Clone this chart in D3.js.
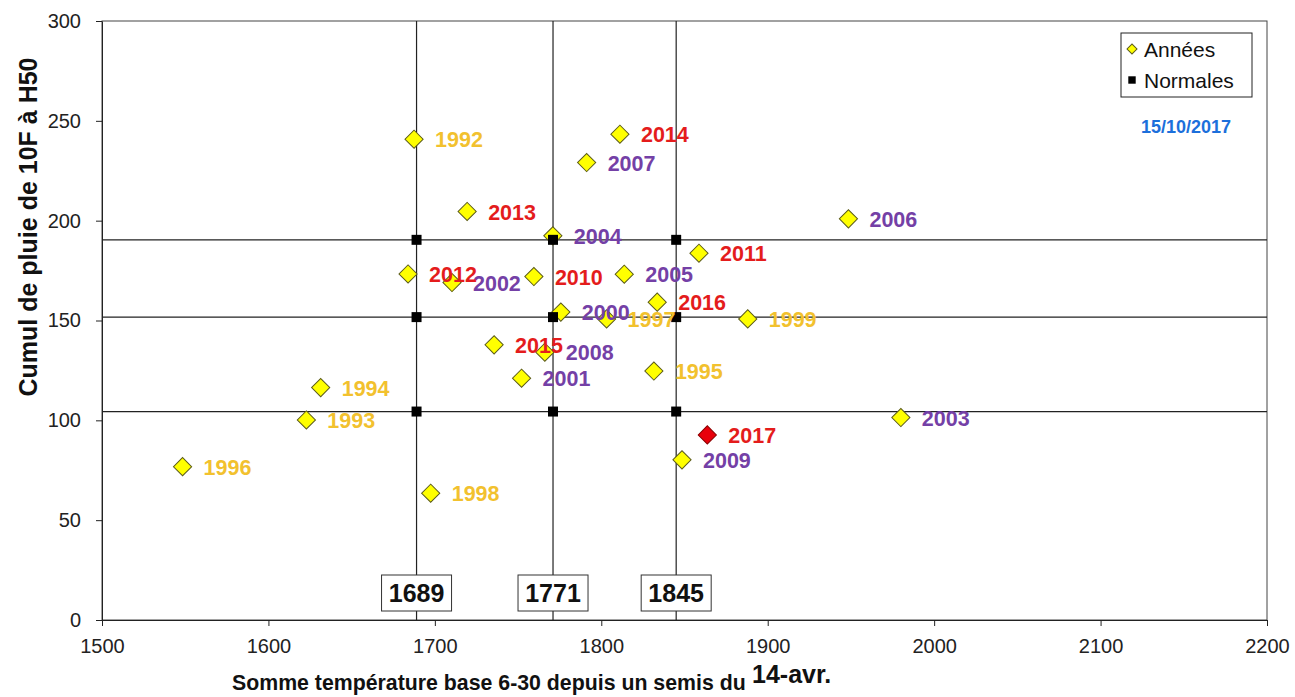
<!DOCTYPE html>
<html>
<head>
<meta charset="utf-8">
<script src="https://cdn.jsdelivr.net/npm/d3@7"></script>
<style>
  body { margin: 0; background: white; }
  text { font-family: Arial, "Liberation Sans", sans-serif; }
</style>
</head>
<body>
<div id="chart"></div>
<script>
// years and their values
const years = [1992, 1993, 1994, 1995, 1996, 1997, 1998, 1999,
  2000, 2001, 2002, 2003, 2004, 2005, 2006, 2007, 2008, 2009,
  2010, 2011, 2012, 2013, 2014, 2015, 2016, 2017];
const tempSum = [1687.5, 1622.8, 1631.4, 1831.6, 1548.4, 1803.2, 1697.5, 1888,
  1775.7, 1752.1, 1710.3, 1980, 1770.9, 1813.8, 1948.5, 1791.2, 1766.1, 1848.5,
  1759.5, 1858.7, 1683.9, 1719.4, 1811.2, 1735.6, 1833.6, 1863.7];
const rain = [240.8, 100.2, 116.4, 124.7, 76.8, 150.8, 63.5, 150.8,
  154.2, 121.1, 169, 101.4, 192.4, 173.2, 200.9, 229.1, 134.1, 80.2,
  172, 183.7, 173.3, 204.6, 243.3, 137.8, 159.2, 92.7];

// normals
const normTemp = [1689, 1771, 1845];
const normRain = [104.4, 151.7, 190.4];

const xTicks = [1500, 1600, 1700, 1800, 1900, 2000, 2100, 2200];
const yTicks = [0, 50, 100, 150, 200, 250, 300];

const xTitle = "Somme  température base 6-30 depuis un semis du";
const xTitleDate = "14-avr.";
const yTitle = "Cumul de pluie de 10F à H50";
const dateStamp = "15/10/2017";
const currentYear = 2017;

const width = 1295;
const height = 697;
const margin = { top: 21, right: 28, bottom: 77, left: 102 };

const svg = d3.select("#chart")
  .append("svg")
  .attr("width", width)
  .attr("height", height)
  .style("background", "white");

const x = d3.scaleLinear()
  .domain([1500, 2200])
  .range([margin.left, width - margin.right]);

const y = d3.scaleLinear()
  .domain([0, 300])
  .range([height - margin.bottom, margin.top]);

// label colour by decade
function labelColor(yr) {
  if (yr < 2000) return "#F2C12E";
  if (yr < 2010) return "#7440A6";
  return "#E41C1C";
}

// plot frame
svg.append("rect")
  .attr("x", x(1500))
  .attr("y", y(300))
  .attr("width", x(2200) - x(1500))
  .attr("height", y(0) - y(300))
  .attr("fill", "none")
  .attr("stroke", "#444")
  .attr("stroke-width", 1);

// normal lines
svg.append("g")
  .selectAll("line")
  .data(normTemp)
  .join("line")
  .attr("x1", d => x(d)).attr("x2", d => x(d))
  .attr("y1", y(300)).attr("y2", y(0))
  .attr("stroke", "#222")
  .attr("stroke-width", 1.2);

svg.append("g")
  .selectAll("line")
  .data(normRain)
  .join("line")
  .attr("x1", x(1500)).attr("x2", x(2200))
  .attr("y1", d => y(d)).attr("y2", d => y(d))
  .attr("stroke", "#222")
  .attr("stroke-width", 1.2);

// x axis
const xAxis = svg.append("g")
  .attr("transform", `translate(0,${y(0)})`)
  .call(d3.axisBottom(x).tickValues(xTicks).tickSize(6).tickSizeOuter(0).tickFormat(d3.format("d")));
xAxis.select(".domain").attr("stroke", "#222");
xAxis.selectAll(".tick line").attr("stroke", "#222");
xAxis.selectAll("text")
  .attr("font-size", "20px")
  .attr("fill", "#222")
  .attr("dy", "1.2em");

// y axis
const yAxis = svg.append("g")
  .attr("transform", `translate(${x(1500)},0)`)
  .call(d3.axisLeft(y).tickValues(yTicks).tickSize(6).tickSizeOuter(0));
yAxis.select(".domain").attr("stroke", "#222");
yAxis.selectAll(".tick line").attr("stroke", "#222");
yAxis.selectAll("text")
  .attr("font-size", "20px")
  .attr("fill", "#222")
  .attr("x", -21);

// boxes with the normal temperature sums
const boxes = svg.append("g")
  .selectAll("g")
  .data(normTemp)
  .join("g")
  .attr("transform", d => `translate(${x(d)},${y(0) - 27})`);
boxes.append("rect")
  .attr("x", -35).attr("y", -18)
  .attr("width", 70).attr("height", 36)
  .attr("fill", "white")
  .attr("stroke", "#333");
boxes.append("text")
  .attr("text-anchor", "middle")
  .attr("dy", "0.36em")
  .attr("font-size", "25px")
  .attr("font-weight", "bold")
  .attr("fill", "#111")
  .text(d => d);

// year points
const points = years.map((yr, i) => ({ year: yr, t: tempSum[i], r: rain[i] }));
const diamond = d3.symbol().type(d3.symbolSquare).size(165);

svg.append("g")
  .selectAll("path")
  .data(points)
  .join("path")
  .attr("d", diamond)
  .attr("transform", d => `translate(${x(d.t)},${y(d.r)}) rotate(45)`)
  .attr("fill", d => d.year === currentYear ? "#E8000B" : "#FFFF00")
  .attr("stroke", d => d.year === currentYear ? "#8B0000" : "#5c5c1a")
  .attr("stroke-width", 1);

// normal squares
const normPts = [];
normTemp.forEach(t => normRain.forEach(r => normPts.push({ t, r })));
svg.append("g")
  .selectAll("path")
  .data(normPts)
  .join("path")
  .attr("d", d3.symbol().type(d3.symbolSquare).size(100))
  .attr("transform", d => `translate(${x(d.t)},${y(d.r)})`)
  .attr("fill", "#000");

// year labels
svg.append("g")
  .selectAll("text")
  .data(points)
  .join("text")
  .attr("x", d => x(d.t) + 21)
  .attr("y", d => y(d.r))
  .attr("dy", "0.38em")
  .attr("font-size", "21.5px")
  .attr("font-weight", "bold")
  .attr("fill", d => labelColor(d.year))
  .text(d => d.year);

// legend
const legend = svg.append("g").attr("transform", "translate(1121,33)");
legend.append("rect")
  .attr("width", 131).attr("height", 64)
  .attr("fill", "white")
  .attr("stroke", "#222");
legend.append("path")
  .attr("d", d3.symbol().type(d3.symbolSquare).size(50))
  .attr("transform", "translate(11,16) rotate(45)")
  .attr("fill", "#FFFF00")
  .attr("stroke", "#5c5c1a");
legend.append("text")
  .attr("x", 23).attr("y", 16).attr("dy", "0.36em")
  .attr("font-size", "21px").attr("fill", "#111")
  .text("Années");
legend.append("path")
  .attr("d", d3.symbol().type(d3.symbolSquare).size(55))
  .attr("transform", "translate(11,47)")
  .attr("fill", "#000");
legend.append("text")
  .attr("x", 23).attr("y", 47).attr("dy", "0.36em")
  .attr("font-size", "21px").attr("fill", "#111")
  .text("Normales");

// date stamp
svg.append("text")
  .attr("x", 1186).attr("y", 127)
  .attr("text-anchor", "middle")
  .attr("dy", "0.36em")
  .attr("font-size", "18px")
  .attr("font-weight", "bold")
  .attr("fill", "#1C6FDB")
  .text(dateStamp);

// axis titles
svg.append("text")
  .attr("x", 232).attr("y", 690)
  .attr("font-size", "21.3px")
  .attr("font-weight", "bold")
  .attr("fill", "#111")
  .text(xTitle);
svg.append("text")
  .attr("x", 752).attr("y", 683)
  .attr("font-size", "25px")
  .attr("font-weight", "bold")
  .attr("fill", "#111")
  .text(xTitleDate);

svg.append("text")
  .attr("transform", "rotate(-90)")
  .attr("x", -227).attr("y", 37)
  .attr("text-anchor", "middle")
  .attr("font-size", "25px")
  .attr("font-weight", "bold")
  .attr("fill", "#111")
  .text(yTitle);
</script>
</body>
</html>
